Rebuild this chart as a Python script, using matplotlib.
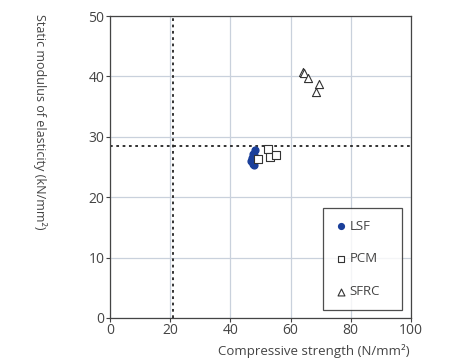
import matplotlib
matplotlib.use('Agg')
import matplotlib.pyplot as plt

plt.rcParams['font.family'] = ['Open Sans', 'DejaVu Sans']

# compressive strength (N/mm2), static modulus (kN/mm2)
lsf_x = [47.0, 47.3, 47.5, 47.8, 47.5, 48.0, 48.3]
lsf_y = [26.0, 26.5, 27.2, 27.0, 25.5, 25.3, 27.8]
pcm_x = [49.2, 52.5, 53.2, 55.1]
pcm_y = [26.3, 28.0, 26.6, 27.0]
sfrc_x = [64.1, 64.5, 65.8, 69.4, 68.4]
sfrc_y = [40.7, 40.5, 39.7, 38.7, 37.4]
ref_x = 21
ref_y = 28.4

txt = '#444444'
fig = plt.figure(figsize=(4.49, 3.58), dpi=100)
ax = fig.add_axes([0.245, 0.112, 0.67, 0.843])

ax.scatter(lsf_x, lsf_y, s=24, color='#1a3f9a', marker='o', label='LSF', zorder=3)
ax.scatter(pcm_x, pcm_y, s=30, facecolor='white', edgecolor='#333333', marker='s',
           linewidths=0.8, label='PCM', zorder=3)
ax.scatter(sfrc_x, sfrc_y, s=34, facecolor='white', edgecolor='#333333', marker='^',
           linewidths=0.8, label='SFRC', zorder=3)

ax.axvline(ref_x, color='#222222', ls=(0, (1.5, 2)), lw=1.3, zorder=2)
ax.axhline(ref_y, color='#222222', ls=(0, (1.5, 2)), lw=1.3, zorder=2)

ax.set_xlim(0, 100)
ax.set_ylim(0, 50)
ax.set_xticks([0, 20, 40, 60, 80, 100])
ax.set_yticks([0, 10, 20, 30, 40, 50])
ax.grid(True, color='#c9d1dc', lw=0.9)
ax.set_axisbelow(True)
ax.tick_params(length=3, width=0.8, color='#444444', labelcolor=txt, labelsize=10, pad=1)
for sp in ax.spines.values():
    sp.set_color('#444444')
    sp.set_linewidth(0.9)

leg = ax.legend(loc='lower left', bbox_to_anchor=(0.708, 0.026, 0.262, 0.328), mode='expand',
                frameon=True, fancybox=False, labelspacing=1.5, handletextpad=0.1,
                handlelength=1.0, borderpad=0.9, fontsize=9.5, borderaxespad=0,
                markerscale=0.85)
leg.get_frame().set_edgecolor('#222222')
leg.get_frame().set_linewidth(0.9)
for t in leg.get_texts():
    t.set_color(txt)

fig.text(0.913, 0.0, 'Compressive strength (N/mm²)', ha='right', va='bottom',
         fontsize=9.5, color=txt)
fig.text(0.09, 0.96, 'Static modulus of elasticity (kN/mm²)', rotation=270,
         ha='center', va='top', fontsize=9, color=txt)

fig.savefig('out.png', dpi=100)
